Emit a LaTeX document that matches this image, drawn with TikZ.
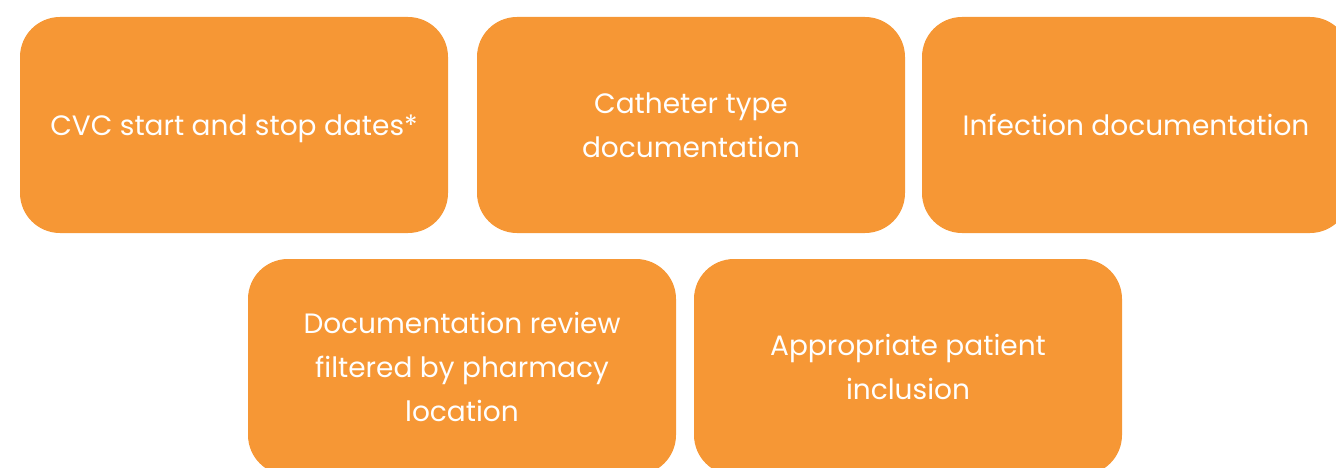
\documentclass[tikz,border=0pt]{standalone}
\usepackage{fontspec}
\setmainfont{Poppins}
\definecolor{boxorange}{HTML}{F69735}
\begin{document}
\begin{tikzpicture}[x=1pt,y=-1pt,
    itembox/.style={fill=boxorange,rounded corners=40pt,minimum width=428pt,minimum height=216pt,
        text=white,align=center,text depth=0pt,font=\fontsize{28}{44}\selectfont}]
                \clip (0,0) rectangle (1336,468);
                % top row
                \node[itembox] (dates) at (234,125) {CVC start and stop dates*};
                \node[itembox] (cathtype) at (691,125) {Catheter type\\documentation};
                \node[itembox] (infection) at (1136,125) {Infection documentation};
                % bottom row
                \node[itembox] (review) at (462,367) {Documentation review\\filtered by pharmacy\\location};
                \node[itembox] (inclusion) at (908,367) {Appropriate patient\\inclusion};
            \end{tikzpicture}
\end{document}
